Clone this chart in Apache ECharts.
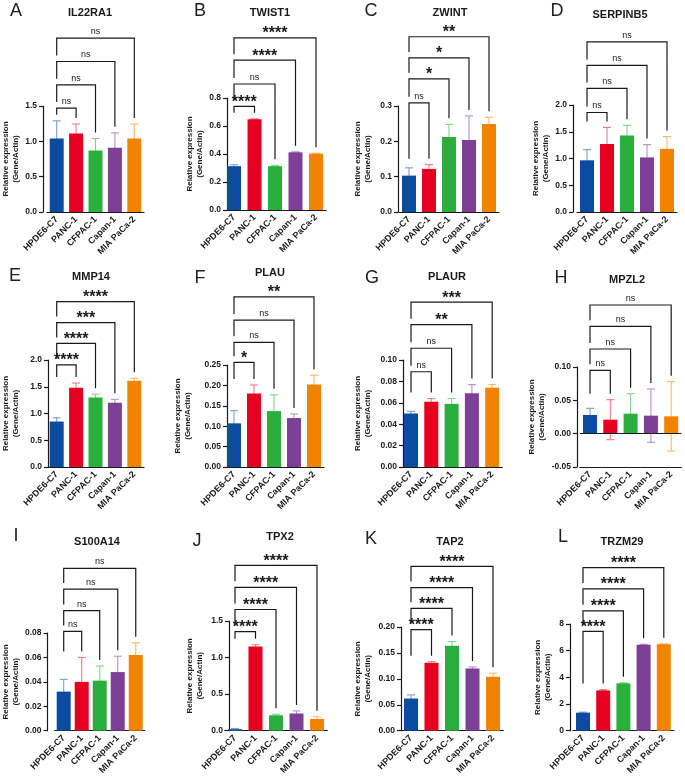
<!DOCTYPE html>
<html>
<head>
<meta charset="utf-8">
<script src="https://cdn.jsdelivr.net/npm/echarts@6/dist/echarts.min.js"></script>
<style>
  html, body { margin: 0; padding: 0; background: #fff; }
  #chart { width: 685px; height: 777px; }
</style>
</head>
<body>
<div id="chart"></div>
<script>
// categories shared by every panel
const cellLines = ['HPDE6-C7', 'PANC-1', 'CFPAC-1', 'Capan-1', 'MIA PaCa-2'];
const panelLetters = ['A', 'B', 'C', 'D', 'E', 'F', 'G', 'H', 'I', 'J', 'K', 'L'];
const genes = ['IL22RA1', 'TWIST1', 'ZWINT', 'SERPINB5', 'MMP14', 'PLAU', 'PLAUR', 'MPZL2', 'S100A14', 'TPX2', 'TAP2', 'TRZM29'];

// mean and SD per gene
const meanIL22RA1 = [1.04, 1.11, 0.87, 0.91, 1.04];
const sdIL22RA1 = [0.25, 0.135, 0.17, 0.21, 0.205];
const meanTWIST1 = [0.313, 0.648, 0.313, 0.412, 0.402];
const sdTWIST1 = [0.01, 0.004, 0.006, 0.004, 0.004];
const meanZWINT = [0.103, 0.122, 0.212, 0.204, 0.249];
const sdZWINT = [0.022, 0.012, 0.036, 0.068, 0.019];
const meanSERPINB5 = [0.966, 1.27, 1.43, 1.02, 1.18];
const sdSERPINB5 = [0.2, 0.31, 0.19, 0.24, 0.23];
const meanMMP14 = [0.85, 1.48, 1.30, 1.20, 1.61];
const sdMMP14 = [0.07, 0.09, 0.06, 0.065, 0.05];
const meanPLAU = [0.107, 0.180, 0.137, 0.120, 0.202];
const sdPLAU = [0.031, 0.021, 0.04, 0.01, 0.023];
const meanPLAUR = [0.050, 0.061, 0.059, 0.069, 0.074];
const sdPLAUR = [0.002, 0.003, 0.005, 0.008, 0.003];
const meanMPZL2 = [0.028, 0.021, 0.030, 0.027, 0.026];
const sdMPZL2 = [0.010, 0.030, 0.030, 0.040, 0.052];
const meanS100A14 = [0.032, 0.040, 0.041, 0.048, 0.062];
const sdS100A14 = [0.010, 0.020, 0.012, 0.013, 0.010];
const meanTPX2 = [0.02, 1.15, 0.21, 0.235, 0.16];
const sdTPX2 = [0.01, 0.025, 0.015, 0.035, 0.03];
const meanTAP2 = [0.062, 0.131, 0.164, 0.120, 0.104];
const sdTAP2 = [0.007, 0.002, 0.008, 0.003, 0.007];
const meanTRZM29 = [1.35, 3.02, 3.55, 6.45, 6.48];
const sdTRZM29 = [0.04, 0.06, 0.04, 0.03, 0.03];

// comparison brackets: HPDE6-C7 vs each of the others, bracket heights in data units
const bracketTargets = [1, 2, 3, 4];
const levelIL22RA1 = [1.47, 1.80, 2.13, 2.46];
const levelTWIST1 = [0.74, 0.90, 1.07, 1.23];
const levelZWINT = [0.309, 0.377, 0.436, 0.496];
const levelSERPINB5 = [1.86, 2.31, 2.74, 3.18];
const levelMMP14 = [1.91, 2.31, 2.70, 3.09];
const levelPLAU = [0.2565, 0.3056, 0.360, 0.417];
const levelPLAUR = [0.089, 0.111, 0.133, 0.154];
const levelMPZL2 = [0.095, 0.127, 0.161, 0.193];
const levelS100A14 = [0.0813, 0.0984, 0.116, 0.133];
const levelTPX2 = [1.356, 1.657, 1.96, 2.26];
const levelTAP2 = [0.195, 0.236, 0.276, 0.317];
const levelTRZM29 = [7.45, 8.99, 10.63, 12.22];

const sigIL22RA1 = ['ns', 'ns', 'ns', 'ns'];
const sigTWIST1 = ['****', 'ns', '****', '****'];
const sigZWINT = ['ns', '*', '*', '**'];
const sigSERPINB5 = ['ns', 'ns', 'ns', 'ns'];
const sigMMP14 = ['****', '****', '***', '****'];
const sigPLAU = ['*', 'ns', 'ns', '**'];
const sigPLAUR = ['ns', 'ns', '**', '***'];
const sigMPZL2 = ['ns', 'ns', 'ns', 'ns'];
const sigS100A14 = ['ns', 'ns', 'ns', 'ns'];
const sigTPX2 = ['****', '****', '****', '****'];
const sigTAP2 = ['****', '****', '****', '****'];
const sigTRZM29 = ['****', '****', '****', '****'];

// y axis ticks per panel
const yMin = [0, 0, 0, 0, 0, 0, 0, -0.05, 0, 0, 0, 0];
const yMax = [1.5, 0.8, 0.3, 2.0, 2.0, 0.25, 0.10, 0.10, 0.08, 1.5, 0.20, 8];
const yStep = [0.5, 0.2, 0.1, 0.5, 0.5, 0.05, 0.02, 0.05, 0.02, 0.5, 0.05, 2];
const yDecimals = [1, 1, 1, 1, 1, 2, 2, 2, 2, 1, 2, 0];

const means = [meanIL22RA1, meanTWIST1, meanZWINT, meanSERPINB5, meanMMP14, meanPLAU, meanPLAUR, meanMPZL2, meanS100A14, meanTPX2, meanTAP2, meanTRZM29];
const sds = [sdIL22RA1, sdTWIST1, sdZWINT, sdSERPINB5, sdMMP14, sdPLAU, sdPLAUR, sdMPZL2, sdS100A14, sdTPX2, sdTAP2, sdTRZM29];
const levels = [levelIL22RA1, levelTWIST1, levelZWINT, levelSERPINB5, levelMMP14, levelPLAU, levelPLAUR, levelMPZL2, levelS100A14, levelTPX2, levelTAP2, levelTRZM29];
const sigs = [sigIL22RA1, sigTWIST1, sigZWINT, sigSERPINB5, sigMMP14, sigPLAU, sigPLAUR, sigMPZL2, sigS100A14, sigTPX2, sigTAP2, sigTRZM29];

const barColors = ['#0c4ca0', '#e60020', '#2aaf3d', '#7e3f97', '#f28300'];
const errColors = ['#7e9fd0', '#f37a86', '#86d08e', '#b591c6', '#f7b766'];

// layout in px: axisX, firstBarCenter, step, top, bottom, nameGap, letterX, letterY, titleX, titleY
const layout = [
  [40, 54, 20, 106, 212, 22, 16, 11, 90, 13],
  [227, 234, 20.5, 98, 210, 20, 200, 11, 270, 13],
  [398, 409, 20, 106, 212, 25, 371, 11, 450, 13],
  [573, 587, 20, 105, 212, 21, 557, 11, 620, 15],
  [45, 54, 20, 360, 467, 27, 15, 276, 91, 277],
  [227, 234, 20, 365, 467, 34, 200, 278, 270, 273],
  [403, 411, 20.3, 360, 467, 30, 372, 278, 447, 277],
  [577, 590, 20.3, 367, 467, 30, 561, 278, 627, 280],
  [40, 57, 19.5, 633, 735, 22, 16, 536, 97, 542],
  [229, 235, 20.5, 621, 732, 24, 197, 541, 280, 537],
  [401, 411, 20.5, 627, 732, 28, 371, 539, 450, 542],
  [570, 583, 20.2, 624, 732, 17, 563, 537, 622, 542]
];

const FONT = 'Liberation Sans, Arial, sans-serif';
const INK = '#1a1a1a';

function errorRender(params, api) {
  const x = api.value(0);
  const lo = api.coord([x, api.value(1)]);
  const hi = api.coord([x, api.value(2)]);
  const st = { stroke: errColors[x], lineWidth: 1.1 };
  return {
    type: 'group',
    children: [
      { type: 'line', shape: { x1: hi[0], y1: hi[1], x2: lo[0], y2: lo[1] }, style: st },
      { type: 'line', shape: { x1: hi[0] - 4, y1: hi[1], x2: hi[0] + 4, y2: hi[1] }, style: st },
      { type: 'line', shape: { x1: lo[0] - 4, y1: lo[1], x2: lo[0] + 4, y2: lo[1] }, style: st }
    ]
  };
}

function makeBracketRender(k) {
  const m = means[k], s = sds[k], lv = levels[k], sg = sigs[k];
  return function (params, api) {
    const i = params.dataIndex;
    const from = api.value(0), to = api.value(1), lvl = api.value(2);
    const a = api.coord([from, lvl]);
    const b = api.coord([to, lvl]);
    const rightBottom = api.coord([to, m[to] + s[to]])[1] - 6;
    let leftBottom;
    if (i === 0) {
      leftBottom = Math.min(rightBottom, api.coord([from, m[from] + s[from]])[1] - 6);
    } else {
      leftBottom = api.coord([from, lv[i - 1]])[1] - 6;
    }
    const label = sg[i];
    const stars = label !== 'ns';
    return {
      type: 'group',
      children: [
        {
          type: 'polyline',
          shape: { points: [[a[0], leftBottom], [a[0], a[1]], [b[0], b[1]], [b[0], rightBottom]] },
          style: { stroke: INK, lineWidth: 1.2, fill: null }
        },
        {
          type: 'text',
          x: (a[0] + b[0]) / 2,
          y: stars ? a[1] - 4 : a[1] - 2,
          style: {
            text: label,
            fill: INK,
            font: stars ? 'bold 16px ' + FONT : 'normal 9px ' + FONT,
            align: 'center',
            verticalAlign: stars ? 'middle' : 'bottom'
          }
        }
      ]
    };
  };
}

const grid = [], xAxis = [], yAxis = [], series = [], graphic = [];

genes.forEach(function (gene, k) {
  const [axisX, c0, step, top, bottom, nameGap, lx, ly, tx, ty] = layout[k];
  const left = c0 - step / 2;
  grid.push({ left: left, top: top, width: step * 5, height: bottom - top, containLabel: false });

  xAxis.push({
    type: 'category',
    gridIndex: k,
    data: cellLines,
    axisLine: { onZero: false, lineStyle: { color: INK, width: 1.2 } },
    axisTick: { alignWithLabel: true, length: 4, lineStyle: { color: INK, width: 1.2 } },
    axisLabel: { rotate: 45, margin: 6, interval: 0, color: INK, fontFamily: FONT, fontWeight: 'bold', fontSize: 9 },
    splitLine: { show: false }
  });

  const dec = yDecimals[k];
  yAxis.push({
    type: 'value',
    gridIndex: k,
    min: yMin[k],
    max: yMax[k],
    interval: yStep[k],
    offset: left - axisX,
    name: 'Relative expression\n(Gene/Actin)',
    nameLocation: 'middle',
    nameGap: nameGap,
    nameTextStyle: { color: INK, fontFamily: FONT, fontWeight: 'bold', fontSize: 8, lineHeight: 10 },
    axisLine: { show: true, lineStyle: { color: INK, width: 1.2 } },
    axisTick: { show: true, length: 4, lineStyle: { color: INK, width: 1.2 } },
    axisLabel: {
      margin: 6, color: INK, fontFamily: FONT, fontWeight: 'bold', fontSize: 8.5,
      formatter: function (v) { return v.toFixed(dec); }
    },
    splitLine: { show: false }
  });

  const barSeries = {
    type: 'bar',
    xAxisIndex: k,
    yAxisIndex: k,
    barWidth: 14,
    z: 3,
    data: means[k].map(function (v, i) { return { value: v, itemStyle: { color: barColors[i] } }; })
  };
  if (yMin[k] < 0) {
    barSeries.markLine = {
      silent: true, symbol: 'none', label: { show: false },
      lineStyle: { color: INK, width: 1.2, type: 'solid' },
      data: [{ yAxis: 0 }]
    };
  }
  series.push(barSeries);

  series.push({
    type: 'custom',
    xAxisIndex: k,
    yAxisIndex: k,
    clip: false,
    z: 2,
    renderItem: errorRender,
    data: means[k].map(function (v, i) { return [i, v - sds[k][i], v + sds[k][i]]; })
  });

  series.push({
    type: 'custom',
    xAxisIndex: k,
    yAxisIndex: k,
    clip: false,
    z: 4,
    renderItem: makeBracketRender(k),
    data: bracketTargets.map(function (t, i) { return [0, t, levels[k][i]]; })
  });

  graphic.push({
    type: 'text', x: lx, y: ly,
    style: { text: panelLetters[k], fill: '#222', font: 'normal 18px ' + FONT, align: 'center', verticalAlign: 'middle' }
  });
  graphic.push({
    type: 'text', x: tx, y: ty,
    style: { text: gene, fill: INK, font: 'bold 11px ' + FONT, align: 'center', verticalAlign: 'middle' }
  });
});

const chart = echarts.init(document.getElementById('chart'), null, { renderer: 'canvas' });
chart.setOption({
  animation: false,
  backgroundColor: '#fff',
  grid: grid,
  xAxis: xAxis,
  yAxis: yAxis,
  series: series,
  graphic: graphic
});
</script>
</body>
</html>
